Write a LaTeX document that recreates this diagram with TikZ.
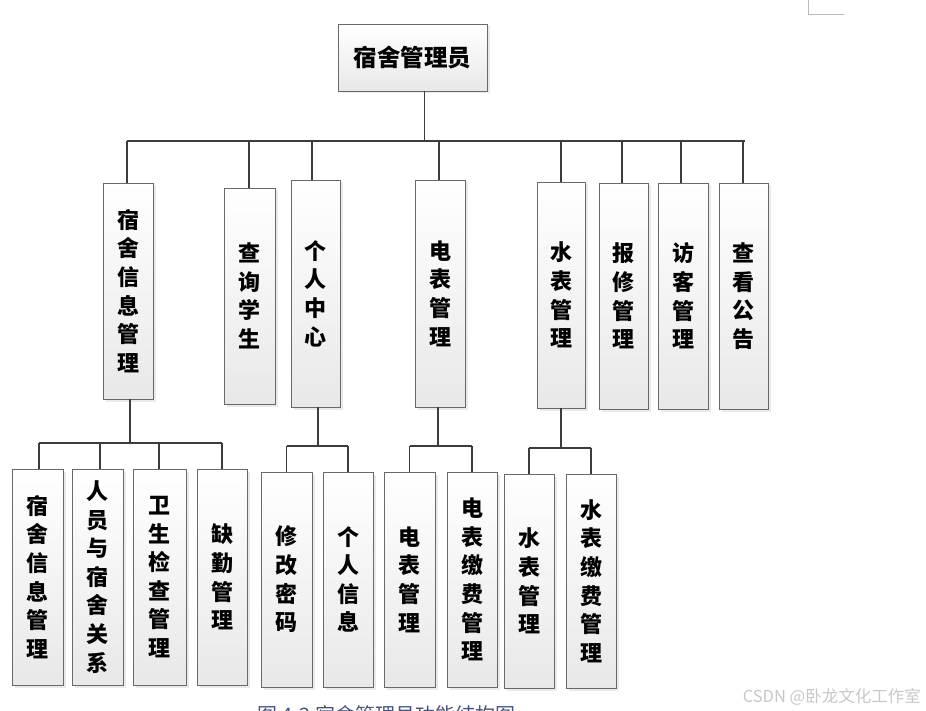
\documentclass[tikz,border=0pt]{standalone}
\usepackage{fontspec}
\newfontfamily\cjk{Noto Sans CJK SC}
\usetikzlibrary{shadows}
\definecolor{boxline}{RGB}{105,105,105}
\definecolor{conline}{RGB}{60,60,60}
\definecolor{captioncol}{RGB}{70,82,130}
\definecolor{wmark}{RGB}{200,200,200}
\definecolor{corner}{RGB}{185,185,185}
\tikzset{
  fbox/.style={draw=boxline, line width=0.9pt, top color=white, bottom color=black!9,
    inner sep=0pt, align=center, drop shadow={shadow xshift=2.5pt, shadow yshift=-2.5pt, fill=black!16},
    font={\cjk\bfseries\fontsize{22}{28.6}\selectfont}},
  con/.style={draw=conline, line width=1.7pt},
}
% name, left, right, top, bottom, text
\newcommand{\fbx}[6]{\node[fbox, minimum width={#3-#2}, minimum height={#5-#4}] (#1) at ({(#2+#3)/2},{(#4+#5)/2}) {#6};}
\begin{document}
\begin{tikzpicture}[x=1pt,y=-1pt]
\useasboundingbox (0,0) rectangle (926,711);
\clip (0,0) rectangle (926,711);
% page corner mark
\draw[corner, line width=1pt] (808,0) coordinate (cm1) -- (808,15) coordinate (cm2) -- (844,15) coordinate (cm3);
% root
\node[fbox, minimum width=149, minimum height=67, font={\cjk\bfseries\fontsize{23.5}{28}\selectfont}] (root) at (412.5,57.5) {宿舍管理员};
% level 1
\fbx{a1}{103}{153}{183}{399}{宿\\舍\\信\\息\\管\\理}
\fbx{a2}{224}{275}{188}{404}{查\\询\\学\\生}
\fbx{a3}{291}{340}{180}{407}{个\\人\\中\\心}
\fbx{a4}{415}{465}{180}{407}{电\\表\\管\\理}
\fbx{a5}{537}{585}{182}{408}{水\\表\\管\\理}
\fbx{a6}{599}{648}{183}{409}{报\\修\\管\\理}
\fbx{a7}{658}{708}{183}{409}{访\\客\\管\\理}
\fbx{a8}{719}{768}{183}{409}{查\\看\\公\\告}
% level 2
\fbx{b1}{12}{63}{469}{685}{宿\\舍\\信\\息\\管\\理}
\fbx{b2}{72}{123}{469}{685}{人\\员\\与\\宿\\舍\\关\\系}
\fbx{b3}{133}{186}{469}{685}{卫\\生\\检\\查\\管\\理}
\fbx{b4}{197}{247}{469}{685}{缺\\勤\\管\\理}
\fbx{c1}{261}{312}{472}{687}{修\\改\\密\\码}
\fbx{c2}{323}{373}{472}{687}{个\\人\\信\\息}
\fbx{d1}{384}{435}{472}{687}{电\\表\\管\\理}
\fbx{d2}{447}{497}{472}{687}{电\\表\\缴\\费\\管\\理}
\fbx{e1}{504}{554}{474}{688}{水\\表\\管\\理}
\fbx{e2}{566}{616}{474}{688}{水\\表\\缴\\费\\管\\理}
% connectors level 0 -> 1
\coordinate (rs) at ([xshift=12pt]root.south);
\coordinate (bus) at (0,141);
\draw[con] (rs) -- (rs |- bus);
\draw[con] ([xshift=-1pt]a1.north |- bus) -- ([xshift=1pt]a8.north |- bus);
\foreach \n/\dx in {a1/-1,a2/-0.5,a3/-3.5,a4/-1,a5/0,a6/-1.5,a7/-2,a8/-0.5}{
  \draw[con] ([xshift=\dx pt]\n.north |- bus) -- ([xshift=\dx pt]\n.north);
}
% group 1
\coordinate (g1) at (0,443);
\draw[con] ([xshift=2pt]a1.south) -- ([xshift=2pt]a1.south |- g1);
\draw[con] ([xshift=1.5pt]b1.north |- g1) -- (b4.north |- g1);
\foreach \n/\dx in {b1/1.5,b2/2.5,b3/-0.5,b4/0}{
  \draw[con] ([xshift=\dx pt]\n.north |- g1) -- ([xshift=\dx pt]\n.north);
}
% group 2
\coordinate (g2) at (0,446);
\draw[con] ([xshift=2.5pt]a3.south) -- ([xshift=2.5pt]a3.south |- g2);
\draw[con] (c1.north |- g2) -- (c2.north |- g2);
\draw[con] (c1.north |- g2) -- (c1.north);
\draw[con] (c2.north |- g2) -- (c2.north);
% group 3
\coordinate (g3) at (0,446);
\draw[con] ([xshift=-2pt]a4.south) -- ([xshift=-2pt]a4.south |- g3);
\draw[con] (d1.north |- g3) -- (d2.north |- g3);
\draw[con] (d1.north |- g3) -- (d1.north);
\draw[con] (d2.north |- g3) -- (d2.north);
% group 4
\coordinate (g4) at (0,448);
\draw[con] (a5.south) -- (a5.south |- g4);
\draw[con] (e1.north |- g4) -- (e2.north |- g4);
\draw[con] (e1.north |- g4) -- (e1.north);
\draw[con] (e2.north |- g4) -- (e2.north);
% caption (cut off by page edge, as in the reference)
\node[anchor=base west, inner sep=0pt, text=captioncol, font={\cjk\fontsize{20}{24}\selectfont}] (cap) at (257,722) {图 4-2 宿舍管理员功能结构图};
% watermark
\node[anchor=base east, inner sep=0pt, text=wmark, font={\cjk\fontsize{16.5}{18}\selectfont}] (wm) at (921,702) {CSDN @卧龙文化工作室};
\end{tikzpicture}
\end{document}
